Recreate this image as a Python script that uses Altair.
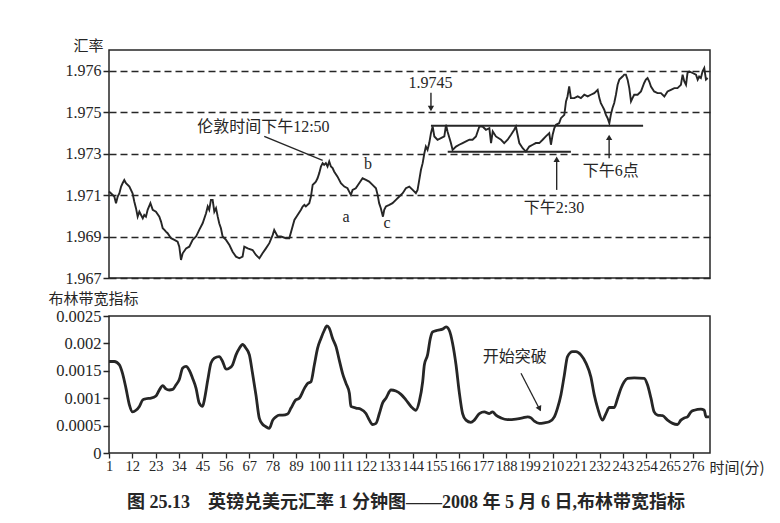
import altair as alt
import pandas as pd

# ---------------- data ----------------
# GBP/USD 1-minute price (minute index, rate)
price_min = [
    1, 1.9, 3.5, 4.3, 5.1, 5.9, 6.7, 7.4, 8.2, 9.0,
    10.6, 12.1, 12.9, 13.7, 14.5, 15.3, 16.1, 16.9, 17.6, 18.4,
    19.2, 20.5, 21.6, 23.1, 24.7, 25.5, 26.3, 27.1, 27.8, 28.6,
    30.2, 31.8, 33.3, 34.1, 34.9, 35.7, 37.3, 38.8, 40.4, 42.0,
    43.5, 45.1, 46.7, 47.5, 48.2, 49.0, 49.8, 50.6, 51.4, 52.2,
    52.9, 53.7, 54.5, 56.1, 57.7, 59.2, 60.8, 62.4, 63.9, 64.7,
    66.3, 68.6, 70.2, 71.8, 73.3, 74.9, 76.5, 78.1, 78.8, 80.4,
    82.0, 84.3, 85.9, 88.3, 89.8, 91.4, 92.2, 93.0, 93.7, 95.3,
    96.1, 96.9, 97.7, 98.4, 99.2, 100.0, 100.8, 101.6, 102.3, 103.1,
    103.9, 104.7, 105.5, 106.3, 107.0, 108.6, 110.2, 111.8, 113.3, 114.1,
    114.9, 115.7, 117.2, 118.8, 120.4, 122.0, 123.5, 125.1, 126.7, 127.5,
    128.2, 129.0, 130.0, 130.6, 131.4, 133.0, 134.5, 136.1, 137.7, 139.3,
    140.8, 142.4, 144.0, 145.5, 146.3, 147.1, 147.9, 148.7, 149.5, 150.2,
    151.0, 151.8, 152.6, 153.4, 154.2, 155.7, 157.3, 158.9, 159.7, 160.4,
    162.0, 162.8, 164.4, 165.9, 167.5, 169.1, 170.7, 172.2, 173.8, 175.4,
    176.9, 178.5, 180.1, 180.9, 181.7, 183.2, 185.6, 187.1, 188.7, 190.3,
    191.8, 192.6, 193.4, 194.2, 195.8, 197.3, 198.9, 200.5, 202.0, 203.6,
    205.2, 206.7, 208.3, 209.1, 209.9, 210.7, 211.5, 213.0, 213.8, 215.4,
    216.2, 216.9, 217.7, 218.5, 220.1, 221.7, 223.2, 224.8, 226.4, 227.9,
    229.5, 231.1, 231.9, 232.6, 233.4, 234.2, 235.0, 235.8, 236.6, 237.3,
    238.1, 238.9, 239.7, 240.5, 241.3, 242.8, 243.6, 244.4, 245.2, 246.0,
    246.8, 247.5, 248.3, 249.9, 251.5, 253.0, 253.8, 254.6, 255.4, 256.2,
    257.7, 259.3, 260.9, 262.5, 264.0, 265.6, 267.2, 268.7, 270.3, 271.1,
    271.9, 272.7, 273.4, 274.2, 275.8, 277.4, 278.2, 278.9, 279.7, 280.5,
    281.3, 282.1, 282.9,
]
price_val = [
    1.97117, 1.97109, 1.97093, 1.97061, 1.97093, 1.97109, 1.97141, 1.97157, 1.97173, 1.97157,
    1.97141, 1.97109, 1.97069, 1.97037, 1.96996, 1.97020, 1.97004, 1.96988, 1.97004, 1.96996,
    1.97029, 1.97061, 1.97029, 1.97020, 1.96996, 1.96972, 1.96940, 1.96932, 1.96924, 1.96916,
    1.96892, 1.96884, 1.96875, 1.96851, 1.96787, 1.96819, 1.96843, 1.96851, 1.96884, 1.96900,
    1.96932, 1.96964, 1.97012, 1.97045, 1.97029, 1.97077, 1.97077, 1.97020, 1.97037, 1.96996,
    1.96964, 1.96940, 1.96900, 1.96884, 1.96859, 1.96827, 1.96803, 1.96795, 1.96803, 1.96851,
    1.96843, 1.96835, 1.96811, 1.96795, 1.96819, 1.96843, 1.96868, 1.96908, 1.96932, 1.96900,
    1.96900, 1.96892, 1.96892, 1.96980, 1.97004, 1.97029, 1.97045, 1.97053, 1.97045, 1.97061,
    1.97093, 1.97149, 1.97157, 1.97165, 1.97181, 1.97206, 1.97238, 1.97254, 1.97246, 1.97254,
    1.97238, 1.97262, 1.97238, 1.97230, 1.97214, 1.97189, 1.97157, 1.97141, 1.97133, 1.97117,
    1.97101, 1.97125, 1.97133, 1.97157, 1.97181, 1.97173, 1.97165, 1.97149, 1.97133, 1.97101,
    1.97061, 1.97037, 1.96996, 1.97029, 1.97045, 1.97053, 1.97061, 1.97077, 1.97093, 1.97109,
    1.97133, 1.97141, 1.97125, 1.97109, 1.97125, 1.97173, 1.97222, 1.97254, 1.97302, 1.97334,
    1.97318, 1.97351, 1.97399, 1.97431, 1.97383, 1.97367, 1.97375, 1.97383, 1.97439, 1.97407,
    1.97351, 1.97318, 1.97334, 1.97343, 1.97351, 1.97359, 1.97367, 1.97367, 1.97383, 1.97431,
    1.97431, 1.97415, 1.97423, 1.97351, 1.97407, 1.97383, 1.97367, 1.97351, 1.97367, 1.97391,
    1.97415, 1.97431, 1.97391, 1.97351, 1.97326, 1.97310, 1.97334, 1.97343, 1.97351, 1.97351,
    1.97367, 1.97383, 1.97399, 1.97343, 1.97391, 1.97423, 1.97439, 1.97447, 1.97471, 1.97487,
    1.97552, 1.97576, 1.97624, 1.97568, 1.97568, 1.97576, 1.97568, 1.97584, 1.97576, 1.97584,
    1.97592, 1.97608, 1.97568, 1.97544, 1.97528, 1.97512, 1.97487, 1.97471, 1.97447, 1.97487,
    1.97520, 1.97544, 1.97584, 1.97632, 1.97657, 1.97672, 1.97681, 1.97681, 1.97657, 1.97616,
    1.97552, 1.97568, 1.97584, 1.97584, 1.97600, 1.97641, 1.97657, 1.97665, 1.97648, 1.97624,
    1.97600, 1.97592, 1.97592, 1.97576, 1.97600, 1.97608, 1.97616, 1.97616, 1.97632, 1.97681,
    1.97648, 1.97632, 1.97689, 1.97697, 1.97689, 1.97681, 1.97657, 1.97672, 1.97665, 1.97697,
    1.97713, 1.97657, 1.97665,
]

# Bollinger band-width indicator (minute index, width)
bw_min = [
    1, 3.5, 5.9, 7.4, 9.0, 10.6, 12.1, 13.7, 15.3, 16.9,
    18.4, 20.8, 23.1, 24.7, 26.3, 27.8, 29.4, 31.0, 32.5, 34.1,
    35.7, 37.3, 38.8, 40.4, 42.0, 43.5, 45.1, 45.9, 47.5, 49.0,
    50.6, 52.9, 54.5, 56.1, 57.7, 59.2, 60.8, 62.4, 63.9, 65.5,
    67.1, 68.6, 70.2, 71.8, 73.4, 74.9, 76.5, 78.1, 79.6, 81.2,
    82.8, 85.1, 86.7, 89.0, 90.6, 93.0, 94.5, 96.1, 97.7, 99.2,
    100.8, 102.4, 103.6, 104.7, 106.3, 107.9, 109.4, 111.0, 112.6, 114.2,
    114.9, 117.3, 119.6, 122.0, 123.6, 125.1, 126.7, 128.3, 129.8, 131.4,
    133.8, 136.1, 138.5, 140.8, 143.2, 145.5, 147.1, 148.7, 149.5, 151.0,
    152.3, 153.4, 155.7, 158.1, 159.7, 161.2, 162.8, 164.4, 165.9, 167.5,
    169.1, 171.4, 173.0, 175.4, 177.7, 180.1, 181.6, 183.2, 185.6, 188.7,
    192.6, 195.8, 198.1, 199.7, 201.3, 203.6, 206.0, 208.3, 210.7, 212.2,
    213.8, 215.4, 216.9, 219.3, 220.9, 223.2, 225.6, 227.9, 229.5, 231.1,
    233.4, 235.0, 236.6, 238.9, 240.5, 242.1, 243.6, 245.2, 248.3, 253.0,
    254.6, 256.2, 257.7, 259.3, 261.7, 264.0, 266.4, 268.7, 270.3, 271.9,
    273.4, 275.0, 276.6, 279.7, 281.3, 282.1, 283.6,
]
bw_val = [
    0.00167, 0.00167, 0.00161, 0.00145, 0.00118, 0.00088, 0.00075, 0.00078, 0.00085, 0.00097,
    0.00099, 0.00100, 0.00104, 0.00115, 0.00123, 0.00117, 0.00115, 0.00116, 0.00124, 0.00134,
    0.00155, 0.00158, 0.00151, 0.00136, 0.00118, 0.00091, 0.00085, 0.00097, 0.00133, 0.00164,
    0.00173, 0.00176, 0.00167, 0.00153, 0.00155, 0.00161, 0.00179, 0.00191, 0.00198, 0.00191,
    0.00179, 0.00145, 0.00106, 0.00063, 0.00052, 0.00048, 0.00045, 0.00060, 0.00066, 0.00069,
    0.00069, 0.00071, 0.00082, 0.00097, 0.00100, 0.00118, 0.00127, 0.00130, 0.00161, 0.00191,
    0.00209, 0.00224, 0.00232, 0.00228, 0.00209, 0.00194, 0.00170, 0.00145, 0.00127, 0.00109,
    0.00085, 0.00082, 0.00080, 0.00072, 0.00060, 0.00052, 0.00054, 0.00072, 0.00091, 0.00100,
    0.00115, 0.00113, 0.00107, 0.00097, 0.00085, 0.00078, 0.00094, 0.00130, 0.00161, 0.00179,
    0.00209, 0.00221, 0.00224, 0.00226, 0.00230, 0.00224, 0.00200, 0.00161, 0.00112, 0.00072,
    0.00060, 0.00056, 0.00060, 0.00072, 0.00075, 0.00072, 0.00075, 0.00069, 0.00064, 0.00061,
    0.00062, 0.00064, 0.00066, 0.00064, 0.00058, 0.00054, 0.00055, 0.00057, 0.00066, 0.00082,
    0.00106, 0.00142, 0.00176, 0.00185, 0.00185, 0.00179, 0.00164, 0.00139, 0.00106, 0.00082,
    0.00060, 0.00072, 0.00083, 0.00083, 0.00100, 0.00118, 0.00130, 0.00136, 0.00137, 0.00136,
    0.00124, 0.00100, 0.00075, 0.00069, 0.00068, 0.00060, 0.00054, 0.00052, 0.00060, 0.00064,
    0.00066, 0.00075, 0.00078, 0.00080, 0.00078, 0.00066, 0.00066,
]

# axis ticks and labels
x_ticks = [1, 12, 23, 34, 45, 56, 67, 78, 89, 100, 111, 122, 133, 144, 155, 166,
           177, 188, 199, 210, 221, 232, 243, 254, 265, 276]
y_ticks_top = [1.967, 1.969, 1.971, 1.973, 1.975, 1.977]
y_labels_top = ["1.967", "1.969", "1.971", "1.973", "1.975", "1.976"]
y_ticks_bw = [0, 0.0005, 0.001, 0.0015, 0.002, 0.0025]

# annotations (upper panel): text, minute, rate
note_text = ["伦敦时间下午12:50", "a", "b", "c", "1.9745", "下午2:30", "下午6点"]
note_min = [73.7, 112.6, 122.9, 131.9, 152.4, 210.5, 237.3]
note_val = [1.97430, 1.96995, 1.97251, 1.96966, 1.97642, 1.97038, 1.97218]

# line segments (upper panel): start minute, start rate, end minute, end rate
seg_m1 = [74.1, 152.6, 152.6, 160.5, 211.8, 236.5]
seg_v1 = [1.97383, 1.97594, 1.97434, 1.97309, 1.97125, 1.97278]
seg_m2 = [101.6, 152.6, 252.5, 218.5, 211.8, 236.5]
seg_v2 = [1.97267, 1.97518, 1.97434, 1.97309, 1.97272, 1.97378]
seg_w = [1.4, 1.4, 2.0, 2.0, 1.4, 1.4]

# arrow heads (upper panel)
head_min = [152.6, 211.8, 236.5]
head_val = [1.97522, 1.97268, 1.97374]
head_ang = [180, 0, 0]

# lower panel annotation
bw_note_text = ["开始突破"]
bw_note_min = [192.1]
bw_note_val = [0.001757]
bw_seg_m1 = [195.0]
bw_seg_v1 = [0.001454]
bw_seg_m2 = [204.0]
bw_seg_v2 = [0.00078]
bw_head_min = [203.6]
bw_head_val = [0.00082]
bw_head_ang = [153]

caption = "图 25.13\u00a0\u00a0\u00a0\u00a0英镑兑美元汇率 1 分钟图——2008 年 5 月 6 日,布林带宽指标"

# ---------------- chart ----------------
INK = "#262626"
SERIF = "Liberation Serif"
CJK = "Noto Sans CJK SC"
MIXED = "Liberation Serif, Noto Sans CJK SC"

xs = alt.Scale(domain=[1, 284], nice=False, zero=False)
ys_top = alt.Scale(domain=[1.967, 1.978], nice=False, zero=False)
ys_bw = alt.Scale(domain=[0, 0.0025], nice=False)

label_expr = "''"
for t, lab in reversed(list(zip(y_ticks_top, y_labels_top))):
    label_expr = f"abs(datum.value - {t}) < 0.00001 ? '{lab}' : ({label_expr})"

price_df = pd.DataFrame({"m": price_min, "v": price_val})
bw_df = pd.DataFrame({"m": bw_min, "v": bw_val})
note_df = pd.DataFrame({"t": note_text, "m": note_min, "v": note_val})
seg_df = pd.DataFrame({"m": seg_m1, "v": seg_v1, "m2": seg_m2, "v2": seg_v2, "w": seg_w})
head_df = pd.DataFrame({"m": head_min, "v": head_val, "a": head_ang})
bw_note_df = pd.DataFrame({"t": bw_note_text, "m": bw_note_min, "v": bw_note_val})
bw_seg_df = pd.DataFrame({"m": bw_seg_m1, "v": bw_seg_v1, "m2": bw_seg_m2, "v2": bw_seg_v2})
bw_head_df = pd.DataFrame({"m": bw_head_min, "v": bw_head_val, "a": bw_head_ang})

top_y_axis = alt.Axis(
    values=y_ticks_top, labelExpr=label_expr, grid=True, gridDash=[7, 4],
    gridColor=INK, gridWidth=1.6, domain=False, tickSize=6, tickWidth=1.5,
    tickColor=INK, labelFont=SERIF, labelFontSize=16, labelColor=INK,
    labelPadding=2, title="汇率", titleAngle=0, titleAlign="left",
    titleBaseline="middle", titleX=-36, titleY=-5, titleFont=CJK,
    titleFontSize=15, titleFontWeight="normal", titleColor=INK,
)
bw_x_axis = alt.Axis(
    values=x_ticks, grid=False, domain=False, tickSize=5, tickWidth=1.3,
    tickColor=INK, labelFont=SERIF, labelFontSize=14.5, labelColor=INK,
    labelPadding=1, labelOverlap=False, labelFlush=False,
    title="时间(分)", titleAngle=0, titleAlign="left", titleBaseline="middle",
    titleX=600, titleY=14, titleFont=CJK, titleFontSize=15,
    titleFontWeight="normal", titleColor=INK,
)
bw_y_axis = alt.Axis(
    values=y_ticks_bw, format="~f", grid=False, domain=False, tickSize=6,
    tickWidth=1.5, tickColor=INK, labelFont=SERIF, labelFontSize=16.5,
    labelColor=INK, labelPadding=2, title="布林带宽指标", titleAngle=0,
    titleAlign="left", titleBaseline="middle", titleX=-61, titleY=-17.5,
    titleFont=CJK, titleFontSize=15, titleFontWeight="normal", titleColor=INK,
)

# shared encodings: identical axis objects in every layer so the merge keeps them
tx = alt.X("m:Q", scale=xs, axis=None)
ty = alt.Y("v:Q", scale=ys_top, axis=top_y_axis)
bx = alt.X("m:Q", scale=xs, axis=bw_x_axis)
by = alt.Y("v:Q", scale=ys_bw, axis=bw_y_axis)

price_line = alt.Chart(price_df).mark_line(color=INK, strokeWidth=1.9).encode(x=tx, y=ty)
top_rules = alt.Chart(seg_df).mark_rule(color=INK).encode(
    x=tx, y=ty, x2="m2:Q", y2="v2:Q",
    strokeWidth=alt.StrokeWidth("w:Q", scale=None, legend=None),
)
top_text = alt.Chart(note_df).mark_text(
    font=MIXED, fontSize=16, color=INK, align="center", baseline="middle"
).encode(x=tx, y=ty, text="t:N")
top_heads = alt.Chart(head_df).mark_point(
    shape="triangle", filled=True, size=40, color=INK, opacity=1
).encode(x=tx, y=ty, angle=alt.Angle("a:Q", scale=None))
top = alt.layer(price_line, top_rules, top_text, top_heads).properties(width=601, height=228)

bw_line = alt.Chart(bw_df).mark_line(
    color=INK, strokeWidth=2.8, interpolate="monotone"
).encode(x=bx, y=by)
bw_rule = alt.Chart(bw_seg_df).mark_rule(color=INK, strokeWidth=1.3).encode(
    x=bx, y=by, x2="m2:Q", y2="v2:Q"
)
bw_text = alt.Chart(bw_note_df).mark_text(
    font=MIXED, fontSize=16, color=INK, align="center", baseline="middle"
).encode(x=bx, y=by, text="t:N")
bw_head = alt.Chart(bw_head_df).mark_point(
    shape="triangle", filled=True, size=40, color=INK, opacity=1
).encode(x=bx, y=by, angle=alt.Angle("a:Q", scale=None))
bottom = alt.layer(bw_line, bw_rule, bw_text, bw_head).properties(width=601, height=137)

chart = alt.vconcat(top, bottom, spacing=38, bounds="flush").properties(
    title=alt.TitleParams(
        text=caption, orient="bottom", anchor="middle", font=MIXED,
        fontSize=18, fontWeight="bold", color=INK, offset=18,
    ),
    padding={"left": 39, "top": 29, "right": 5, "bottom": 5},
    background="white",
).configure_view(stroke=INK, strokeWidth=1.5)

chart.save("out.html", embed_options={"renderer": "svg", "actions": False})
